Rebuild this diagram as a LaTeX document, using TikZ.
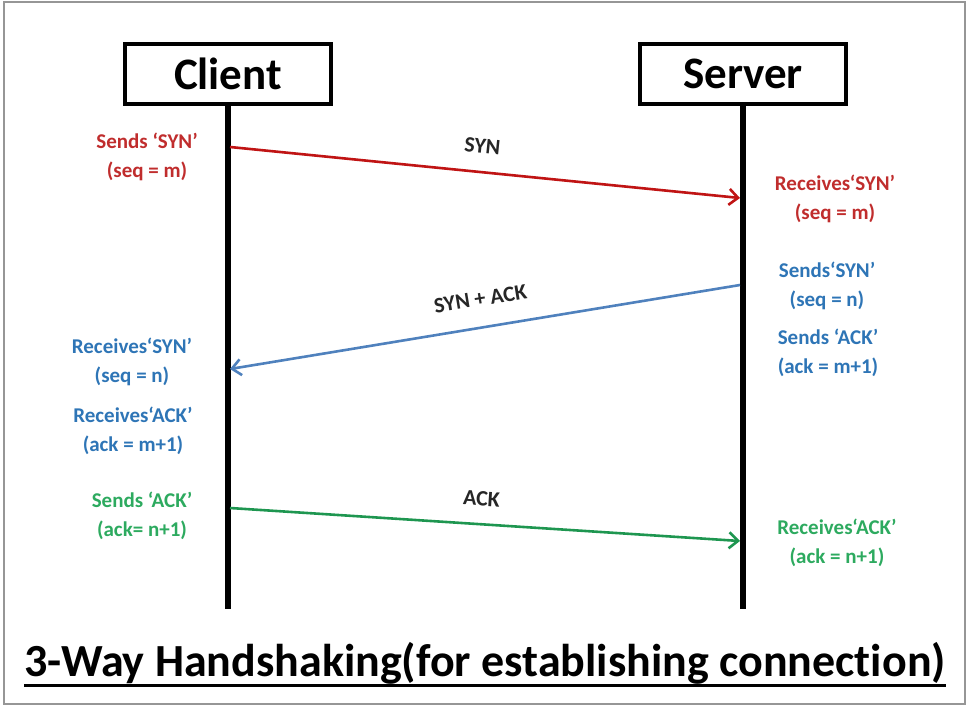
\documentclass[tikz,border=0pt]{standalone}
\usepackage{fontspec}
\setmainfont{Carlito}[Ligatures=NoCommon]
\usetikzlibrary{arrows.meta}

\definecolor{synred}{RGB}{192,45,45}
\definecolor{synline}{RGB}{192,20,20}
\definecolor{ackblue}{RGB}{46,117,182}
\definecolor{blueline}{RGB}{79,129,189}
\definecolor{ackgreen}{RGB}{45,170,95}
\definecolor{greenline}{RGB}{30,150,80}
\definecolor{framegrey}{RGB}{150,150,150}

\tikzset{
  hostbox/.style={draw=black, line width=4pt, minimum width=206pt, minimum height=60pt,
    font=\fontsize{45}{46}\selectfont\bfseries},
  lifeline/.style={line width=5.5pt, black},
  note/.style={align=center, font=\fontsize{21}{29}\selectfont\bfseries, inner sep=0pt},
  msg/.style={line width=2.6pt, -{Straight Barb[length=9pt,width=16pt,line width=2.6pt]}},
  msglabel/.style={font=\fontsize{22}{24}\selectfont\bfseries, text=black!85, sloped, inner sep=0pt}
}

\begin{document}
\begin{tikzpicture}[x=1pt, y=-1pt]
  \useasboundingbox (0,0) rectangle (972,710);
  % outer frame
  \draw[framegrey, line width=1.8pt] (4,2) rectangle (965,704);

  % participants
  \node[hostbox] (client) at (228,73.5) {Client};
  \node[hostbox] (server) at (743,73.5) {Server};
  \coordinate (cend) at (228,609);
  \coordinate (send) at (743,609);
  \draw[lifeline] (client.south) -- (cend);
  \draw[lifeline] (server.south) -- (send);

  % message end points on the lifelines
  \coordinate (synA) at (230,147);
  \coordinate (synB) at (740,198);
  \coordinate (saA)  at (740,285);
  \coordinate (saB)  at (230,369);
  \coordinate (ackA) at (230,508);
  \coordinate (ackB) at (740,541);

  % messages
  \draw[msg, synline] (synA) -- node[msglabel, above=17pt, pos=0.49] (synlbl) {SYN} (synB);
  \draw[msg, blueline] (saA) -- node[msglabel, above=20pt, pos=0.5] (salbl) {SYN + ACK} (saB);
  \draw[msg, greenline] (ackA) -- node[msglabel, above=17pt, pos=0.49] (acklbl) {ACK} (ackB);

  % client-side notes
  \node[note, text=synred] (n1) at (147,157) {Sends ‘SYN’\\(seq = m)};
  \node[note, text=ackblue] (n2) at (132,362) {Receives‘SYN’\\(seq = n)};
  \node[note, text=ackblue] (n3) at (133,431) {Receives‘ACK’\\(ack = m+1)};
  \node[note, text=ackgreen] (n4) at (142,516) {Sends ‘ACK’\\(ack= n+1)};

  % server-side notes
  \node[note, text=synred] (n5) at (835,199) {Receives‘SYN’\\(seq = m)};
  \node[note, text=ackblue] (n6) at (827,286) {Sends‘SYN’\\(seq = n)};
  \node[note, text=ackblue] (n7) at (828,353) {Sends ‘ACK’\\(ack = m+1)};
  \node[note, text=ackgreen] (n8) at (837,543) {Receives‘ACK’\\(ack = n+1)};

  % title
  \node[font=\fontsize{46}{48}\selectfont\bfseries, inner sep=0pt] (title) at (485,663)
    {3-Way Handshaking(for establishing connection)};
  \draw[line width=3pt] ([yshift=-9pt]title.base west) -- ([yshift=-9pt]title.base east);
\end{tikzpicture}
\end{document}
